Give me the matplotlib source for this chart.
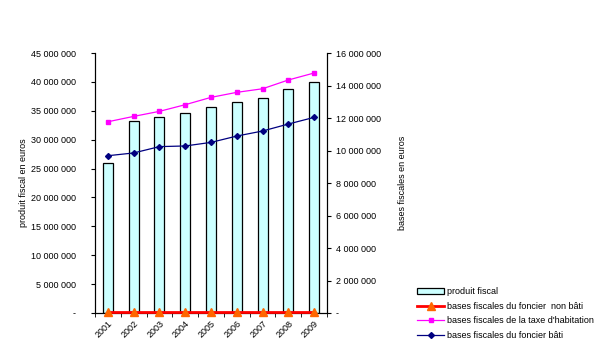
import matplotlib

matplotlib.use("Agg")
import matplotlib.pyplot as plt
from matplotlib.ticker import FuncFormatter, MultipleLocator

# données
annees = ["2001", "2002", "2003", "2004", "2005", "2006", "2007", "2008", "2009"]
produit_fiscal = [26.0e6, 33.2e6, 34.0e6, 34.6e6, 35.6e6, 36.6e6, 37.3e6, 38.7e6, 39.9e6]
foncier_non_bati = [60e3, 60e3, 60e3, 60e3, 60e3, 60e3, 60e3, 60e3, 60e3]
taxe_habitation = [11.77e6, 12.10e6, 12.41e6, 12.82e6, 13.27e6, 13.58e6, 13.80e6, 14.34e6, 14.77e6]
foncier_bati = [9.68e6, 9.85e6, 10.24e6, 10.28e6, 10.50e6, 10.89e6, 11.20e6, 11.63e6, 12.04e6]

plt.rcParams["font.family"] = ["Liberation Sans", "DejaVu Sans"]
FS = 6.5


def fmt(v, _pos):
    if abs(v) < 1:
        return "-"
    return f"{int(round(v)):,}".replace(",", " ")


fig = plt.figure(figsize=(6.04, 3.57), dpi=100)
ax = fig.add_axes([0.1573, 0.1232, 0.3841, 0.7283])
ax2 = ax.twinx()

x = list(range(len(annees)))
bars = ax.bar(x, produit_fiscal, width=0.39, color="#ccffff", edgecolor="black",
              linewidth=0.9, label="produit fiscal", zorder=2)
ax.set_xlim(-0.5, len(annees) - 0.5)
ax.set_ylim(0, 45e6)
ax.yaxis.set_major_locator(MultipleLocator(5e6))
ax.yaxis.set_major_formatter(FuncFormatter(fmt))

l1, = ax2.plot(x, foncier_non_bati, color="#ff0000", lw=2, marker="^", ms=6,
               mfc="#ff6600", mec="#ff6600", label="bases fiscales du foncier  non bâti",
               clip_on=False, zorder=3)
l2, = ax2.plot(x, taxe_habitation, color="#ff00ff", lw=0.9, marker="s", ms=3.5,
               label="bases fiscales de la taxe d'habitation")
l3, = ax2.plot(x, foncier_bati, color="#000080", lw=0.9, marker="D", ms=3,
               label="bases fiscales du foncier bâti")
ax2.set_ylim(0, 16e6)
ax2.yaxis.set_major_locator(MultipleLocator(2e6))
ax2.yaxis.set_major_formatter(FuncFormatter(fmt))

# graduations entre les catégories, comme dans Excel
ax.set_xticks(x)
ax.set_xticklabels(annees, rotation=45, ha="right", rotation_mode="anchor", fontsize=FS)
ax.tick_params(axis="x", length=0, pad=4)
ax.set_xticks([i + 0.5 for i in range(-1, len(annees))], minor=True)
ax.tick_params(axis="x", which="minor", length=3, direction="out")

for a in (ax, ax2):
    a.tick_params(axis="y", labelsize=FS, length=3, direction="out", width=0.8)
    for s in a.spines.values():
        s.set_linewidth(0.8)
ax.tick_params(axis="y", pad=11)
ax.spines["top"].set_visible(False)
ax2.spines["top"].set_visible(False)

ax.set_ylabel("produit fiscal en euros", fontsize=FS, labelpad=2)
ax2.set_ylabel("bases fiscales en euros", fontsize=FS, labelpad=12)

fig.legend([bars, l1, l2, l3], [h.get_label() for h in (bars, l1, l2, l3)],
           loc="upper left", bbox_to_anchor=(0.685, 0.205), frameon=False,
           fontsize=FS, handlelength=3.0, handletextpad=0.3, labelspacing=0.6,
           borderaxespad=0)

fig.savefig("out.png", dpi=100)
